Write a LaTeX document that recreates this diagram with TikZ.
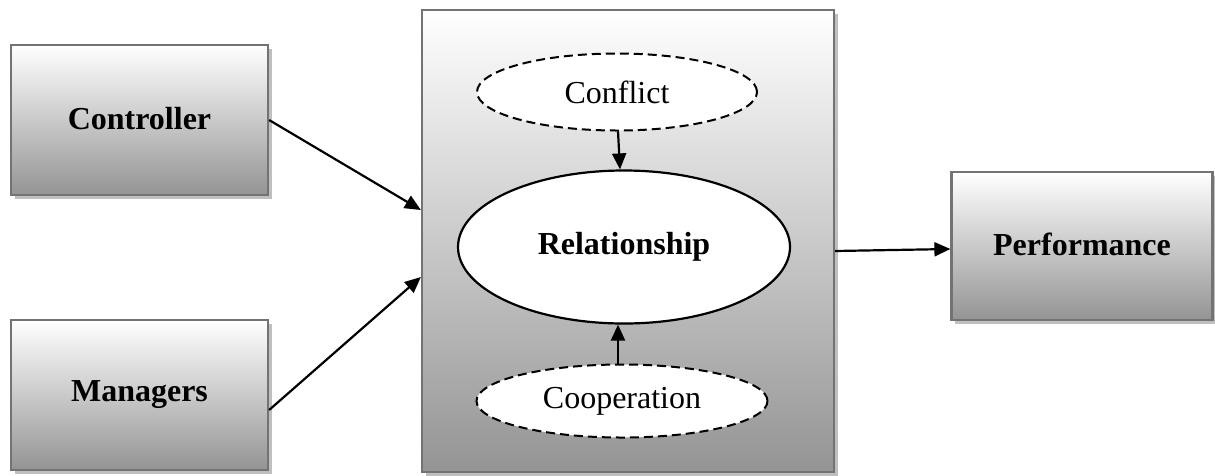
\documentclass[tikz,border=0pt]{standalone}
\usepackage{fontspec}
\setmainfont{Liberation Serif}
\usetikzlibrary{arrows.meta,shapes.geometric,shadows}
\tikzset{
  gbox/.style={rectangle, draw=black!55, line width=2.2pt, top color=white, bottom color=black!42,
    drop shadow={shadow xshift=3.5pt, shadow yshift=-3.5pt, fill=black!25, opacity=1},
    font=\fontsize{32}{36}\selectfont\bfseries, inner sep=0pt},
  dashell/.style={ellipse, draw=black, line width=2pt, dash pattern=on 9pt off 5pt, fill=white,
    font=\fontsize{32}{36}\selectfont, inner sep=0pt},
  solell/.style={ellipse, draw=black, line width=2.2pt, fill=white,
    font=\fontsize{32}{36}\selectfont\bfseries, inner sep=0pt},
  arr/.style={line width=2.2pt, -{Triangle[length=16pt,width=14pt]}}
}
\begin{document}
\begin{tikzpicture}[x=1pt,y=-1pt]
\useasboundingbox (0,0) rectangle (1215,475);
\node[gbox, minimum width=257pt, minimum height=150pt] (ctrl) at (139.5,120) {\raisebox{4pt}{Controller}};
\node[gbox, minimum width=257pt, minimum height=150pt] (mgr) at (139.5,395) {\raisebox{4pt}{Managers}};
\node[gbox, minimum width=412pt, minimum height=462pt] (main) at (628,241) {};
\node[gbox, minimum width=261pt, minimum height=148pt] (perf) at (1082,246) {\raisebox{4pt}{Performance}};
\node[dashell, minimum width=280pt, minimum height=77pt] (conf) at (617,92) {Conflict};
\node[solell, minimum width=332pt, minimum height=153pt] (rel) at (624,247) {Relationship};
\node[dashell, minimum width=291pt, minimum height=73pt] (coop) at (622,401) {Cooperation};
\draw[arr] (ctrl.east) -- ([yshift=31pt]main.west);
\draw[arr] ([yshift=-15pt]mgr.east) -- ([yshift=-36pt]main.west);
\draw[arr] ([xshift=1pt]conf.south) -- ([xshift=-4pt]rel.north);
\draw[arr] ([xshift=-4pt]coop.north) -- ([xshift=-6pt]rel.south);
\draw[arr] ([yshift=-10pt]main.east) -- ([yshift=-3pt]perf.west);
\end{tikzpicture}
\end{document}
